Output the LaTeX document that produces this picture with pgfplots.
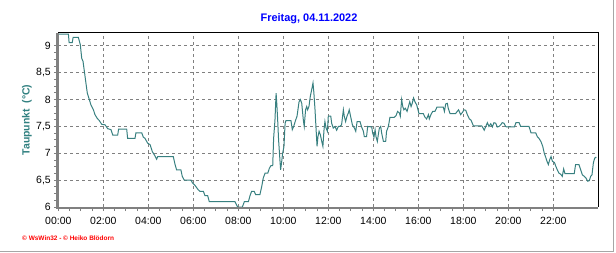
\documentclass[border=0pt]{standalone}
\usepackage{fontspec}
\setmainfont{Liberation Sans}
\usepackage{pgfplots}
\pgfplotsset{compat=1.18}
\definecolor{dew}{RGB}{56,128,128}
\definecolor{gridc}{RGB}{128,128,128}
\begin{document}
\begin{tikzpicture}
\useasboundingbox (-58.3bp,-46bp) rectangle (557.7bp,207bp);
\begin{axis}[
 at={(0,0)}, anchor=south west,
 scale only axis, width=540bp, height=174bp,
 xmin=0, xmax=24, ymin=6, ymax=9.24,
 xtick={0,2,...,22},
 xticklabels={00:00,02:00,04:00,06:00,08:00,10:00,12:00,14:00,16:00,18:00,20:00,22:00},
 ytick={6,6.5,...,9},
 minor x tick num=3, minor y tick num=3,
 tick align=outside,
 major tick length=4bp, minor tick length=4bp,
 tick style={gridc, line width=0.8bp},
 xtick pos=left, ytick pos=left,
 grid=major,
 major grid style={gridc, line width=0.8bp, dash pattern=on 3bp off 3bp},
 axis line style={draw=none},
 /pgf/number format/use comma,
 /pgf/number format/assume math mode=true,
 ticklabel style={font=\fontsize{10.5}{12}\selectfont, text=black},
 xticklabel style={yshift=-3bp},
 clip=false,
]
\addplot[dew, line width=1bp] coordinates {
(0,9.22)(0.45,9.22)(0.48,9.06)(0.62,9.06)(0.66,9.16)(0.89,9.16)(0.98,9.02)(1.04,8.77)(1.10,8.71)(1.17,8.49)(1.25,8.24)(1.29,8.12)(1.38,8.0)(1.45,7.9)(1.56,7.81)(1.63,7.72)(1.73,7.65)(1.82,7.61)(1.93,7.54)(2.08,7.53)(2.19,7.46)(2.34,7.44)(2.42,7.34)(2.64,7.34)(2.68,7.45)(3.04,7.45)(3.08,7.28)(3.41,7.28)(3.45,7.38)(3.71,7.38)(3.78,7.3)(3.85,7.28)(3.97,7.19)
(4.08,7.16)(4.18,7.03)(4.30,6.95)(4.37,6.89)(4.42,6.94)(5.11,6.94)(5.19,6.79)(5.26,6.69)(5.45,6.69)(5.51,6.57)(5.60,6.5)(5.90,6.5)(5.96,6.45)(6.08,6.40)(6.22,6.32)(6.30,6.29)(6.45,6.29)(6.52,6.21)(6.64,6.21)(6.71,6.10)(7.85,6.10)(7.97,6.0)
(8.18,6.0)(8.27,6.1)(8.45,6.1)(8.52,6.21)(8.59,6.29)(8.71,6.29)(8.77,6.23)(8.96,6.23)(9.04,6.38)(9.11,6.54)(9.19,6.63)(9.31,6.63)(9.38,6.72)(9.45,6.77)(9.53,6.77)(9.57,7.28)(9.63,7.62)(9.68,8.12)(9.71,7.93)(9.75,7.62)(9.79,7.25)(9.84,6.94)(9.88,6.69)(9.93,6.85)(9.97,7.0)(10.03,7.13)(10.08,7.56)(10.12,7.61)(10.34,7.61)(10.40,7.44)(10.46,7.50)(10.55,7.62)(10.61,7.69)(10.70,7.96)(10.76,8.0)(10.82,7.93)(10.89,7.62)(10.93,7.5)(10.99,7.81)(11.04,7.87)(11.08,7.81)(11.14,7.87)(11.20,8.06)(11.26,8.18)(11.32,8.31)(11.36,8.12)(11.41,7.81)(11.45,7.5)(11.50,7.13)(11.54,7.31)(11.59,7.41)(11.65,7.34)(11.71,7.22)(11.76,7.13)(11.81,7.44)(11.85,7.59)
(11.90,7.47)(11.96,7.41)(12.00,7.69)(12.11,7.69)(12.15,7.56)(12.22,7.47)(12.30,7.50)(12.37,7.43)(12.45,7.5)(12.52,7.5)(12.59,7.53)(12.67,7.81)(12.71,7.69)(12.77,7.59)(12.83,7.69)(12.89,7.75)(12.93,7.81)(12.99,7.69)(13.07,7.53)(13.16,7.47)(13.22,7.41)(13.28,7.59)(13.41,7.59)(13.48,7.49)(13.56,7.41)(13.60,7.31)(13.70,7.31)(13.75,7.5)(13.93,7.49)(13.97,7.38)(14.03,7.30)(14.08,7.44)(14.12,7.31)(14.18,7.22)(14.22,7.34)(14.27,7.47)(14.33,7.5)(14.37,7.38)(14.45,7.22)(14.55,7.22)(14.59,7.41)(14.67,7.5)(14.74,7.67)(14.93,7.67)(15.01,7.70)(15.08,7.78)(15.16,7.75)(15.20,7.69)(15.26,8.0)(15.31,7.87)(15.36,7.81)(15.42,7.84)(15.50,7.78)(15.56,7.87)(15.62,7.96)(15.68,7.87)(15.73,7.93)(15.79,8.03)(15.85,7.96)
(15.93,7.90)(16.03,7.74)(16.22,7.74)(16.30,7.67)(16.37,7.64)(16.45,7.72)(16.49,7.64)(16.56,7.72)(16.64,7.78)(16.74,7.78)(16.83,7.86)(17.11,7.86)(17.16,7.78)(17.22,7.92)(17.29,7.93)(17.33,7.84)(17.41,7.74)(17.66,7.74)(17.73,7.78)(17.79,7.81)(17.88,7.72)(17.96,7.76)(18.03,7.81)(18.11,7.80)(18.18,7.72)(18.27,7.64)(18.34,7.62)(18.45,7.51)(18.82,7.51)(18.88,7.47)(18.93,7.43)(19.01,7.51)(19.07,7.57)(19.14,7.5)(19.22,7.55)(19.29,7.49)(19.36,7.57)(19.44,7.56)(19.51,7.49)(19.59,7.5)(19.66,7.53)(19.73,7.57)(19.81,7.56)(19.88,7.5)
(19.93,7.49)(20.27,7.49)(20.34,7.57)(20.48,7.57)(20.55,7.5)(20.92,7.5)(21.01,7.38)(21.22,7.38)(21.29,7.31)(21.36,7.28)(21.45,7.22)(21.53,7.13)(21.60,7.0)(21.66,6.93)(21.72,6.85)(21.78,6.79)(21.84,6.88)(21.90,6.94)(21.96,6.85)(22.05,6.83)(22.11,6.76)(22.18,6.69)(22.25,6.63)(22.33,6.61)(22.40,6.57)(22.46,6.71)(22.52,6.62)(22.93,6.62)(22.99,6.79)(23.14,6.79)(23.22,6.69)(23.29,6.60)(23.38,6.57)(23.45,6.54)(23.53,6.48)(23.60,6.49)(23.66,6.57)(23.72,6.6)(23.78,6.82)(23.84,6.91)(23.91,6.93)
};
\draw[black, line width=1bp] (rel axis cs:0,1) -- (rel axis cs:1,1) -- (rel axis cs:1,0);
\draw[gridc, line width=2.5bp] ([xshift=-0.9bp]rel axis cs:0,1) -- ([xshift=-0.9bp, yshift=-0.9bp]rel axis cs:0,0) -- ([yshift=-0.9bp]rel axis cs:1,0);
\end{axis}
\node[text={rgb,255:red,0;green,0;blue,255}, font=\bfseries\fontsize{11}{13}\selectfont] at (250.7bp,188.5bp) {Freitag, 04.11.2022};
\node[rotate=90, text={rgb,255:red,48;green,128;blue,128}, font=\bfseries\fontsize{10.5}{12}\selectfont] at (-31.3bp,87bp) {Taupunkt\ \ (°C)};
\node[anchor=west, inner sep=0pt, text={rgb,255:red,255;green,0;blue,0}, font=\bfseries\fontsize{6.5}{8}\selectfont] at (-36.3bp,-31bp) {© WsWin32 - © Heiko Blödorn};
\draw[gridc!70, line width=1bp] (554.7bp,207bp) -- (554.7bp,-44bp) -- (-58.3bp,-44bp);
\end{tikzpicture}
\end{document}
